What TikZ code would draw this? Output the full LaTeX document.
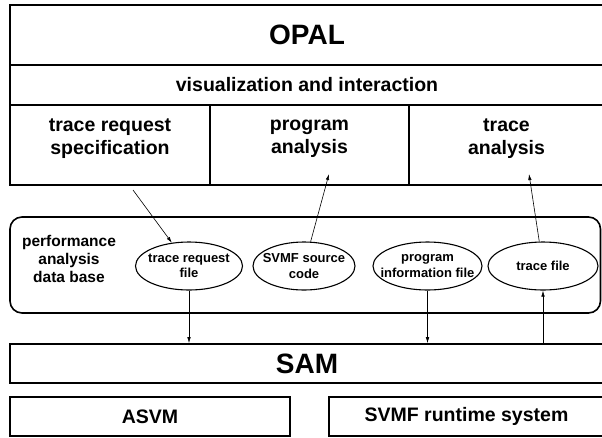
\documentclass[tikz,border=0pt]{standalone}
\usepackage{fontspec}
\setmainfont{Liberation Sans}
\usetikzlibrary{arrows.meta,shapes.geometric}

\begin{document}
\begin{tikzpicture}[x=1pt,y=-1pt,
    box/.style={draw, line width=1.6pt, inner sep=0pt},
    bigtext/.style={font=\fontsize{28}{32}\selectfont\bfseries},
    midtext/.style={font=\fontsize{19.5}{23}\selectfont\bfseries, align=center},
    dbtext/.style={font=\fontsize{15.5}{18}\selectfont\bfseries, align=center},
    filetext/.style={font=\fontsize{13}{15.5}\selectfont\bfseries, align=center},
    file/.style={draw, ellipse, line width=1.1pt, inner xsep=-12pt, inner ysep=-2pt,
        minimum width=#1, minimum height=48pt},
    file/.default=106pt,
    flow/.style={line width=0.6pt, -{Latex[length=6pt,width=3.5pt]}}]
        \useasboundingbox (0,0) rectangle (602,437);

        % we draw the OPAL layers
        \node[box, bigtext, minimum width=594pt, minimum height=60pt] (opal) at (307,35) {OPAL};
        \node[box, midtext, minimum width=594pt, minimum height=40pt] (vis) at (307,85) {visualization and interaction};
        \node[box, minimum width=200pt, minimum height=80pt] (reqspec) at (110,145) {};
        \node[box, minimum width=199pt, minimum height=80pt] (proganal) at (309.5,145) {};
        \node[box, minimum width=195pt, minimum height=80pt] (traceanal) at (506.5,145) {};
        \node[midtext] (reqspectext) at ([yshift=6pt]reqspec) {trace request\\specification};
        \node[midtext] (proganaltext) at ([yshift=6pt]proganal) {program\\analysis};
        \node[midtext] (traceanaltext) at ([yshift=6pt]traceanal) {trace\\analysis};

        % we draw the data base with its files
        \node[box, rounded corners=12pt, minimum width=590.5pt, minimum height=96pt] (db) at (305.25,265) {};
        \node[dbtext] (dbtext) at (69,259) {performance\\analysis\\data base};
        \node[file=107pt, filetext] (reqfile) at (189,266) {trace request\\file};
        \node[file=102pt, filetext] (srcfile) at (304,266) {SVMF source\\code};
        \node[file=109pt, filetext] (infofile) at (427.5,266) {program\\information file};
        \node[file=110pt, filetext] (tracefile) at (543,266) {trace file};

        % we draw the lower layers
        \node[box, bigtext, minimum width=594pt, minimum height=39pt] (sam) at (307,363.5) {SAM};
        \node[box, midtext, minimum width=280pt, minimum height=39pt] (asvm) at (150,416.5) {ASVM};
        \node[box, midtext, minimum width=275pt, minimum height=39pt] (runtime) at (466.5,416.5) {SVMF runtime system};

        % we add the flows
        \coordinate (reqstart) at (133,190);
        \coordinate (progend) at (329,174);
        \coordinate (traceend) at (529,174);
        \draw[flow] (reqstart) -- (reqfile);
        \draw[flow] (srcfile) -- (progend);
        \draw[flow] (tracefile) -- (traceend);
        \draw[flow] (reqfile.south) -- (reqfile.south |- sam.north);
        \draw[flow] (infofile.south) -- (infofile.south |- sam.north);
        \draw[flow] (tracefile.south |- sam.north) -- (tracefile.south);
\end{tikzpicture}
\end{document}
